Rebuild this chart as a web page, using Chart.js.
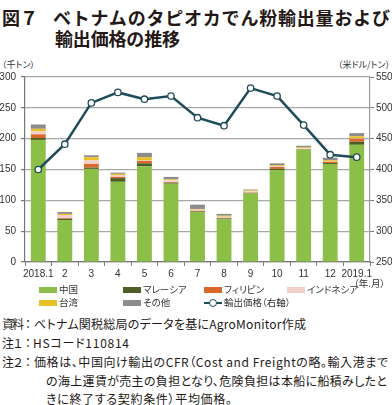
<!DOCTYPE html>
<html><head><meta charset="utf-8">
<script src="https://cdn.jsdelivr.net/npm/chart.js@4/dist/chart.umd.min.js"></script>
<style>
html,body{margin:0;padding:0;background:#fff;}
body{width:392px;height:405px;position:relative;overflow:hidden;font-family:"Noto Sans CJK JP","Noto Sans",sans-serif;color:#231815;}
.abs{position:absolute;white-space:nowrap;}
.title{font-size:18px;font-weight:bold;line-height:1;}
.unit{font-size:9px;color:#333;font-feature-settings:"palt";}
.lg{font-size:9.5px;color:#333;line-height:1;font-feature-settings:"palt";}
.sw{position:absolute;width:18px;height:6px;}
.note{font-size:12px;line-height:1;color:#231815;}
.pre{letter-spacing:-2px;}
.palt{font-feature-settings:"palt";}
#wrap{position:absolute;left:0;top:55px;width:392px;height:230px;}
</style></head>
<body>
<div class="abs title" style="left:2px;top:8px;">図７</div>
<div class="abs title fit" data-w="337" style="left:53px;top:8px;">ベトナムのタピオカでん粉輸出量および</div>
<div class="abs title fit" data-w="125" style="left:55px;top:29px;">輸出価格の推移</div>
<div class="abs unit" style="left:2px;top:58px;">（千トン）</div>
<div class="abs unit" style="right:2px;top:58px;">（米ドル/トン）</div>
<div id="wrap"><canvas id="c" width="392" height="230"></canvas></div>
<div class="abs lg" style="left:354px;top:279px;">（年.月）</div>
<div class="abs note pre" style="left:2px;top:318px;">資料：</div>
<div class="abs note palt fit" data-w="272" style="left:34px;top:318px;">ベトナム関税総局のデータを基にAgroMonitor作成</div>
<div class="abs note pre" style="left:2px;top:337px;">注１：</div>
<div class="abs note palt fit" data-w="96" style="left:33px;top:337px;">HSコード110814</div>
<div class="abs note pre" style="left:2px;top:356px;">注２：</div>
<div class="abs note palt fit" data-w="354" style="left:34px;top:356px;">価格は、中国向け輸出のCFR（Cost and Freightの略。輸入港まで</div>
<div class="abs note palt fit" data-w="341" style="left:46px;top:375px;">の海上運賃が売主の負担となり、危険負担は本船に船積みしたと</div>
<div class="abs note palt fit" data-w="186" style="left:46px;top:393px;">きに終了する契約条件）平均価格。</div>
<script>
const categories = ['2018.1','2','3','4','5','6','7','8','9','10','11','12','2019.1'];
const china       = [198, 68, 151, 130, 155, 127, 81, 69, 111, 149, 182, 159, 190];
const malaysia    = [3, 2, 2, 6, 5, 1.5, 1, 1.5, 1, 2, 0.5, 1.5, 5];
const philippines = [6, 1, 6, 2, 4, 1, 1, 1, 0.5, 3, 0.5, 2, 5];
const indonesia   = [5, 5, 6, 3, 1, 3, 2, 2, 2, 1.5, 1.5, 0.5, 1];
const taiwan      = [4, 2, 5, 2, 5, 1.5, 1, 1.5, 1.5, 1.5, 1.5, 2, 3];
const others      = [7, 3, 3, 2, 7, 4, 7, 3, 1.5, 3, 2.5, 4, 5];
const price       = [400, 441, 508, 525, 514, 519, 484, 471, 532, 519, 472, 424, 420];
const leftTicks = [0,50,100,150,200,250,300];
const rightTicks = [250,300,350,400,450,500,550];

const names = ['中国','マレーシア','フィリピン','インドネシア','台湾','その他','輸出価格（右軸）'];
const colors = ['#8cbf47','#4b5e25','#d8692a','#f3cfcb','#e8c128','#8c8c8c','#1f4c5a'];
const barData = [china, malaysia, philippines, indonesia, taiwan, others];

const datasets = [{
  type:'line', label:names[6], data:price, yAxisID:'y1', order:0,
  borderColor:colors[6], borderWidth:2.5, backgroundColor:'#fff',
  pointBackgroundColor:'#fff', pointBorderColor:colors[6], pointBorderWidth:1.3,
  pointRadius:3.2, tension:0
}];
barData.forEach((d,i)=>datasets.push({
  type:'bar', label:names[i], data:d, yAxisID:'y', order:1, stack:'s',
  backgroundColor:colors[i], borderWidth:0, barPercentage:0.56, categoryPercentage:1
}));

const tickFont = {family:'"Liberation Sans","Noto Sans",sans-serif', size:10};
new Chart(document.getElementById('c'), {
  data:{labels:categories, datasets},
  options:{
    responsive:false, animation:false, devicePixelRatio:1,
    layout:{padding:{top:22,left:0,right:0,bottom:0}},
    plugins:{legend:{display:false}, tooltip:{enabled:false}},
    scales:{
      x:{stacked:true, offset:true,
        grid:{offset:true, drawOnChartArea:false, color:'#777', tickLength:4, lineWidth:1},
        border:{color:'#777', width:1.2},
        ticks:{color:'#333', font:tickFont, padding:2, maxRotation:0, autoSkip:false},
        afterFit:s=>{s.height=23;}
      },
      y:{stacked:true, position:'left', min:0, max:300,
        afterBuildTicks:s=>{s.ticks=leftTicks.map(v=>({value:v}));},
        grid:{color:'#a8a8a8', lineWidth:1.2, tickLength:4, tickColor:'#777'},
        border:{color:'#777', width:1.2},
        ticks:{color:'#333', font:tickFont, padding:5},
        afterFit:s=>{s.width=25;}
      },
      y1:{position:'right', min:250, max:550,
        afterBuildTicks:s=>{s.ticks=rightTicks.map(v=>({value:v}));},
        grid:{drawOnChartArea:false, color:'#777', tickLength:4},
        border:{color:'#999', width:1.2},
        ticks:{color:'#333', font:tickFont, padding:2},
        afterFit:s=>{s.width=22;}
      }
    }
  }
});

// HTML legend
const cols = [39,123,204,287];
names.forEach((n,i)=>{
  const row = i<4?0:1, col = i<4?i:i-4;
  const x = cols[col], y = row===0?286:299;
  if(i<6){
    const s=document.createElement('div'); s.className='sw';
    s.style.left=x+'px'; s.style.top=(y+1)+'px'; s.style.background=colors[i]; document.body.appendChild(s);
  } else {
    const l=document.createElement('div'); l.className='abs';
    l.style.cssText=`left:${x}px;top:${y+3}px;width:18px;height:2px;background:${colors[6]};`;
    document.body.appendChild(l);
    const c=document.createElement('div'); c.className='abs';
    c.style.cssText=`left:${x+5}px;top:${y}px;width:6px;height:6px;border:1.2px solid ${colors[6]};border-radius:50%;background:#fff;`;
    document.body.appendChild(c);
  }
  const t=document.createElement('div'); t.className='abs lg';
  t.style.left=(x+20)+'px'; t.style.top=(y-1)+'px'; t.textContent=n;
  document.body.appendChild(t);
});

// fit text lines to the widths measured on the reference
document.querySelectorAll('.fit').forEach(el=>{
  const target = +el.dataset.w;
  const w = el.getBoundingClientRect().width;
  const n = [...el.textContent].length;
  if(n>1) el.style.letterSpacing = ((target - w)/(n-1)).toFixed(3)+'px';
});
</script>
</body></html>
